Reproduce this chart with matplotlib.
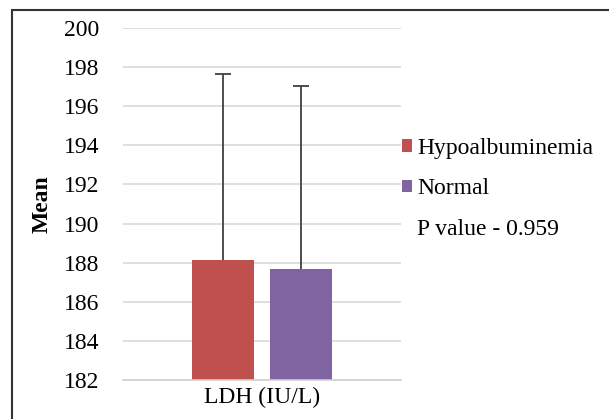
import matplotlib
matplotlib.use("Agg")
import matplotlib.pyplot as plt
from matplotlib.patches import Patch, Rectangle

categories = ["LDH (IU/L)"]
series_names = ["Hypoalbuminemia", "Normal"]
means = [188.15, 187.66]
upper_err = [9.5, 9.37]
colors = ["#C0504D", "#8064A2"]
p_label = "P value - 0.959"
yticks = list(range(182, 201, 2))

plt.rcParams['font.family'] = ['Liberation Serif', 'DejaVu Serif']
FS = 17

W, H = 609, 419
fig = plt.figure(figsize=(W / 100, H / 100), dpi=100)
ax = fig.add_axes([123 / W, 1 - 380 / H, (401 - 123) / W, (380 - 28) / H])

offsets = [-0.140, 0.140]
bw = 0.223
for i, (name, m, e, c) in enumerate(zip(series_names, means, upper_err, colors)):
    ax.bar(offsets[i], m - 182, bottom=182, width=bw, color=c, zorder=2)
    eb = ax.errorbar(offsets[i], m, yerr=[[0], [e]], fmt='none', ecolor='#404040',
                     elinewidth=1.3, capsize=6, capthick=1.3, zorder=3)
    caps = eb[1]
    if len(caps) >= 2:
        caps[0].set_visible(False)

ax.set_xlim(-0.5, 0.5)
ax.set_ylim(182, 200)
ax.set_yticks(yticks)
ax.set_yticklabels([str(t) for t in yticks], fontsize=FS)
ax.set_xticks([0])
ax.set_xticklabels(categories, fontsize=FS)
ax.tick_params(axis='both', length=0)
ax.tick_params(axis='x', pad=5)
ax.tick_params(axis='y', pad=17)
ax.grid(axis='y', color='#D9D9D9', linewidth=1.2, zorder=0)
ax.set_axisbelow(True)
for s in ['top', 'right', 'left']:
    ax.spines[s].set_visible(False)
ax.spines['bottom'].set_color('#D0D0D0')
ax.spines['bottom'].set_linewidth(1.2)
ax.set_ylabel("Mean", fontsize=FS, fontweight='bold', labelpad=8)

handles = [Patch(facecolor=c, edgecolor='none') for c in colors]
handles.append(Patch(facecolor='none', edgecolor='none'))
labels = series_names + [p_label]
leg = fig.legend(handles, labels, loc='upper left', bbox_to_anchor=(397 / W, 1 - 133 / H),
                 frameon=False, fontsize=FS, handlelength=0.45, handleheight=0.45,
                 handletextpad=0.2, labelspacing=0.83, borderaxespad=0, borderpad=0.2)

fig.patches.append(Rectangle((12 / W, -0.1), 1.2, 1 - 10 / H + 0.1, transform=fig.transFigure,
                             fill=False, edgecolor='#333333', linewidth=1.5))

fig.savefig("out.png", dpi=100)
